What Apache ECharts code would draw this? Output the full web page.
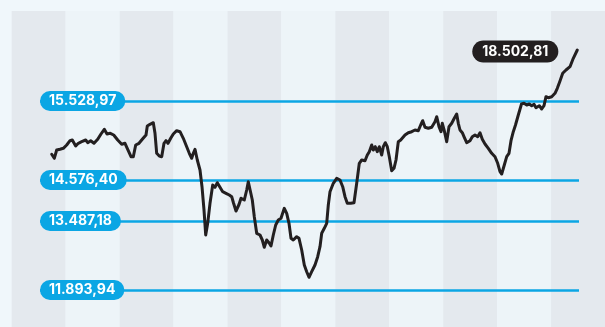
<!DOCTYPE html>
<html><head><meta charset="utf-8">
<script src="https://cdn.jsdelivr.net/npm/echarts@6/dist/echarts.min.js"></script>
<style>html,body{margin:0;padding:0;background:#f0f7fb}#c{width:605px;height:327px}</style>
</head><body><div id="c"></div>
<script>
// time positions (abstract units) and index level (abstract chart units)
const times = [51.7,54.3,56.7,60,63.3,66.7,70,72.3,75.7,78.3,81.7,85.7,87.7,90.7,94,97.7,101,104.3,107,110.3,113.7,117.7,121.7,125,127.7,131,133.3,135.7,139,142.3,
146,147.3,150,153.3,155,156.7,159.3,161.7,164,166,168,170.7,173.3,176.7,180,183.3,186.7,189.3,191.7,193.3,195,197.3,200,202,204,205.7,207.7,210,212.7,215,217.3,220,222.7,226,229.3,231.7,233.5,236,239,241,244.3,246.7,248.3,250,252.3,254.3,256.7,260,262.3,264.3,266.7,269,271,273.3,275.7,278.3,281,284.3,286.7,289,291,293.3,296.7,299,301.7,304.3,306.7,309,311.7,315,317.7,320,321.7,324.3,326.7,328.3,330,333.3,336.7,340,342.7,345,347.3,350.7,354,356.7,359.3,361.7,365,367.3,369.3,371.7,373.3,375.3,377.3,379.3,381.7,383.3,385.3,387.3,389.3,391.7,394,396,398.3,400.7,402.7,405,408.3,411.7,415,418.3,420.7,422.7,425,428.3,431.7,435,436.7,439,441,442.3,444.3,446.7,449,451.7,454.3,456.7,458.3,460,462.3,464.3,466.7,470,472.3,475,477.7,480,482.3,485,488.3,491.7,495,497.7,500,501.7,504.3,506.7,509,511,513.3,515.5,518.3,521.5,524,526.7,529.3,531.7,534,536,539.3,541.7,544,546,548.3,551.7,555,557.3,560,562.7,566,570,573.3,577.3];
const values = [172.7,168.7,177,177.7,178.7,182,186.3,187,181,183.7,185.3,187,184.3,186.3,183.7,187.7,193,197.7,193,193.7,192,187,182.7,183.7,177.7,170.3,170.3,182,183.7,187.7,
192,201,202.7,204.3,193.7,173.7,171,170.3,183.7,186.3,183.7,188.7,193,196.3,195.3,188.7,180.3,173.7,168.7,173.7,177.7,167,157,140.3,117,92,103.7,123.7,142,139.7,144.3,139.7,135.3,133.7,132,130.3,124,116,122.5,128.7,127,137,145.3,143.7,127,110.3,93.7,92,87,79.7,87,84.3,81,92,102,107,108.7,118.7,113.7,103.7,88.7,87,90.3,88.7,77,62,55.3,49.7,55.3,62,70.3,80.3,93.7,98.7,103.7,122,135.3,143.7,148.7,147,140.3,130.3,123.7,123.7,124.3,143.7,163.7,167,166.3,172,175.3,182,177,180.3,175.3,180.3,172,180.3,184.3,180.3,170.3,156.3,158.7,167,185.3,187,187.7,192,194.3,195.3,197,196.3,202,206.3,199.7,198.7,199.7,205.3,210.3,200.3,195.3,203.7,196.3,185.3,200.3,203.7,208.7,213,203.7,197,194.3,189.7,184.3,186.3,190.3,192,190.3,194.3,187.7,183,178.7,173.7,170.3,163.7,155.3,153,162,170.3,173.7,186.3,195.3,202,212,223,223.7,222,223,221.3,222.7,219.3,221.3,218,221.3,230.3,229.3,230.3,233.7,238.7,246,253.7,257,260.3,268.7,277];
const levelValues = [226, 147, 106, 37];
const levelLabels = ['15.528,97', '14.576,40', '13.487,18', '11.893,94'];
const lastLabel = '18.502,81';
const stripeCount = 11;

const BLUE = '#0ba6e4';
const DARK = '#231f20';
const FONT = 'Inter';

const chart = echarts.init(document.getElementById('c'), null, {renderer: 'canvas'});
chart.setOption({
  animation: false,
  backgroundColor: '#f0f7fb',
  grid: [
    {left: 11.7, right: -3.6, top: 11, bottom: 0},
    {left: 40, right: 26, top: 0, bottom: 0}
  ],
  xAxis: [
    {gridIndex: 0, type: 'value', min: 0, max: stripeCount, interval: 1,
     axisLine: {show: false}, axisTick: {show: false}, axisLabel: {show: false},
     splitLine: {show: false},
     splitArea: {show: true, areaStyle: {color: ['#e4e9ee', '#edf4f8']}}},
    {gridIndex: 1, type: 'value', min: 40, max: 579, show: false, splitLine: {show: false}}
  ],
  yAxis: [
    {gridIndex: 0, type: 'value', min: 0, max: 1, show: false, splitLine: {show: false}},
    {gridIndex: 1, type: 'value', min: 0, max: 327, show: false, splitLine: {show: false}}
  ],
  series: [{
    type: 'line',
    xAxisIndex: 1, yAxisIndex: 1,
    z: 4,
    data: times.map((t, i) => [t, values[i]]),
    showSymbol: false,
    symbol: 'none',
    lineStyle: {color: DARK, width: 3, join: 'round', cap: 'round'},
    silent: true,
    markLine: {
      z: 1,
      silent: true,
      symbol: ['none', 'none'],
      lineStyle: {color: BLUE, width: 2.5, type: 'solid'},
      label: {
        show: true, position: 'start', distance: 0, align: 'left',
        color: '#fff', fontFamily: FONT, fontWeight: 'bold', fontSize: 14, lineHeight: 14,
        backgroundColor: BLUE, padding: [3, 9, 3, 9], borderRadius: 10
      },
      emphasis: {disabled: true},
      data: levelValues.map((v, i) => ({yAxis: v, label: {formatter: levelLabels[i]}}))
    },
    markPoint: {
      silent: true,
      symbol: 'circle', symbolSize: 0,
      label: {
        show: true, position: 'inside', offset: [-62, 1.5],
        formatter: lastLabel,
        color: '#fff', fontFamily: FONT, fontWeight: 'bold', fontSize: 14, lineHeight: 14,
        backgroundColor: DARK, padding: [4, 10, 4, 10], borderRadius: 11
      },
      data: [{coord: [times[times.length - 1], values[values.length - 1]]}]
    }
  }]
});
</script></body></html>
